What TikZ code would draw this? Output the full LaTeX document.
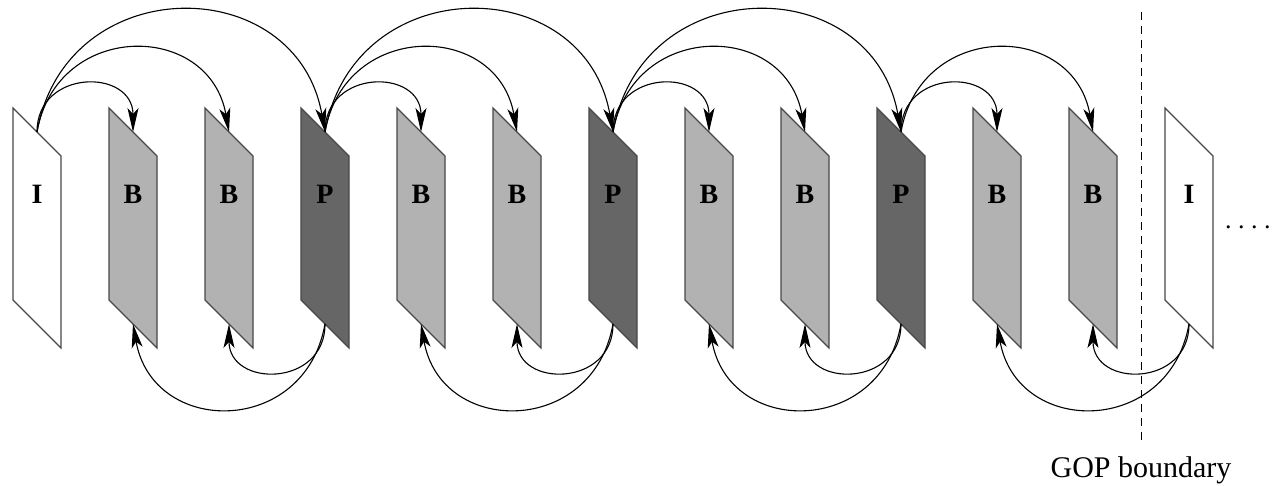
\documentclass[tikz,border=0pt]{standalone}
\usepackage{fontspec}
\setmainfont{Liberation Serif}
\usetikzlibrary{arrows.meta}
\tikzset{
  frameshape/.style={draw=black!72, line width=1.1pt, line join=miter},
  iframe/.style={frameshape, fill=white},
  bframe/.style={frameshape, fill=black!30},
  pframe/.style={frameshape, fill=black!60},
  flabel/.style={font=\bfseries\fontsize{28}{30}\selectfont, inner sep=0pt},
  arr/.style={line width=1.1pt, -{Stealth[length=24pt,width=11pt,inset=6pt]}},
}
\begin{document}
\begin{tikzpicture}[x=1pt,y=1pt]
\useasboundingbox (0,0) rectangle (1277,486);
% frames
\foreach \k/\t/\s in {0/I/iframe,1/B/bframe,2/B/bframe,3/P/pframe,4/B/bframe,5/B/bframe,6/P/pframe,7/B/bframe,8/B/bframe,9/P/pframe,10/B/bframe,11/B/bframe,12/I/iframe}{
  \pgfmathsetmacro{\xl}{13+96*\k}
  \draw[\s] (\xl,378) -- (\xl+48,330) -- (\xl+48,138) -- (\xl,186) -- cycle;
  \coordinate (t\k) at (\xl+24,354);
  \coordinate (b\k) at (\xl+24,162);
  \node[flabel] (f\k) at (\xl+24,292) {\t};
}
% top arcs (forward references)
\foreach \s in {0,3,6}{
  \pgfmathtruncatemacro{\a}{\s+1}
  \pgfmathtruncatemacro{\b}{\s+2}
  \pgfmathtruncatemacro{\c}{\s+3}
  \draw[arr] (t\s) to[out=90,in=90,looseness=1.7] (t\a);
  \draw[arr] (t\s) to[out=80,in=100,looseness=1.51] (t\b);
  \draw[arr] (t\s) to[out=80,in=100,looseness=1.465] (t\c);
}
\draw[arr] (t9) to[out=90,in=90,looseness=1.7] (t10);
\draw[arr] (t9) to[out=80,in=100,looseness=1.51] (t11);
% bottom arcs (backward references)
\foreach \s in {3,6,9,12}{
  \pgfmathtruncatemacro{\a}{\s-1}
  \pgfmathtruncatemacro{\b}{\s-2}
  \draw[arr] (b\s) to[out=-90,in=-90,looseness=1.7] (b\a);
  \draw[arr] (b\s) to[out=-100,in=-80,looseness=1.53] (b\b);
}
% GOP boundary
\coordinate (gtop) at (1141,474);
\coordinate (gbot) at (1141,43);
\draw[line width=0.9pt, dash pattern=on 8pt off 6pt] (gtop) -- (gbot);
\node[anchor=base, font=\fontsize{30}{32}\selectfont, inner sep=0pt] (gop) at (1141,8) {GOP boundary};
\node[anchor=base west, font=\fontsize{26}{30}\selectfont, inner sep=0pt] (dots) at (1225,257) {.\kern6.5pt.\kern6.5pt.\kern6.5pt.};
\end{tikzpicture}
\end{document}
